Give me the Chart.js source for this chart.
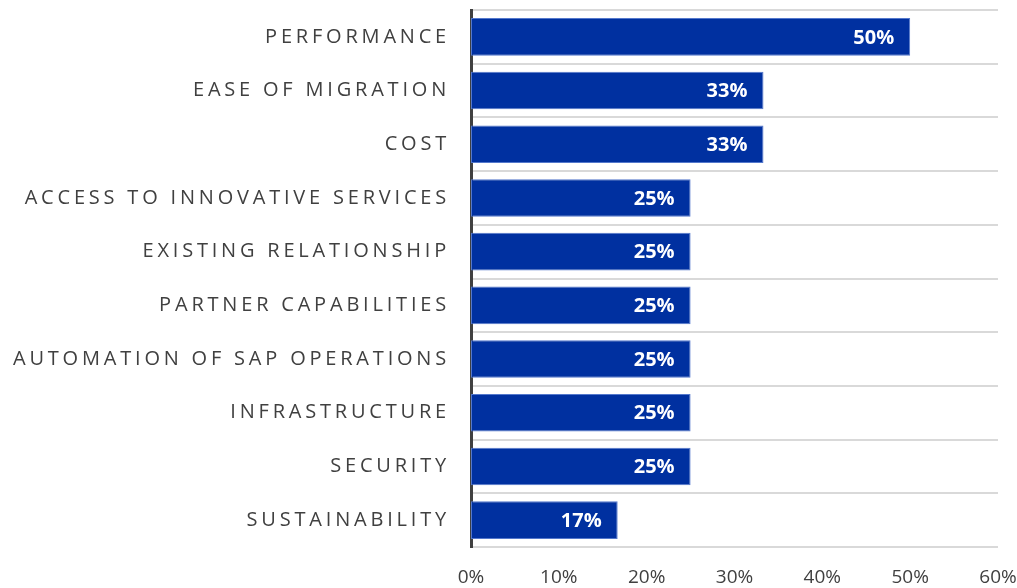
<!DOCTYPE html>
<html lang="en">
<head>
    <meta charset="UTF-8">
    <title>Selection Criteria</title>
    <script src="https://cdn.jsdelivr.net/npm/chart.js"></script>
    <style>
        html, body {
            margin: 0;
            padding: 0;
            background: #fff;
            overflow: hidden;
        }
        #wrap {
            width: 1017px;
            height: 588px;
        }
    </style>
</head>
<body>
    <div id="wrap">
        <canvas id="chart" width="1017" height="588"></canvas>
    </div>

    <script>
        const categories = [
            'PERFORMANCE',
            'EASE OF MIGRATION',
            'COST',
            'ACCESS TO INNOVATIVE SERVICES',
            'EXISTING RELATIONSHIP',
            'PARTNER CAPABILITIES',
            'AUTOMATION OF SAP OPERATIONS',
            'INFRASTRUCTURE',
            'SECURITY',
            'SUSTAINABILITY'
        ];
        const shares = [50, 33.3, 33.3, 25, 25, 25, 25, 25, 25, 16.7];
        const xTicks = [0, 10, 20, 30, 40, 50, 60];

        const labelColor = '#404040';

        // category names drawn with letter spacing (Chart.js has no option for it)
        const categoryLabels = {
            id: 'categoryLabels',
            afterDraw(chart) {
                const ctx = chart.ctx;
                const y = chart.scales.y;
                ctx.save();
                ctx.font = '20px "Open Sans"';
                ctx.fillStyle = labelColor;
                ctx.textAlign = 'right';
                ctx.textBaseline = 'middle';
                ctx.letterSpacing = '3.8px';
                categories.forEach((c, i) => {
                    ctx.fillText(c, 450, y.getPixelForValue(i));
                });
                ctx.restore();
            }
        };

        // white value labels inside the bar ends
        const valueLabels = {
            id: 'valueLabels',
            afterDatasetsDraw(chart) {
                const ctx = chart.ctx;
                const meta = chart.getDatasetMeta(0);
                ctx.save();
                ctx.font = 'bold 20px "Open Sans"';
                ctx.fillStyle = '#ffffff';
                ctx.textAlign = 'right';
                ctx.textBaseline = 'middle';
                meta.data.forEach((bar, i) => {
                    ctx.fillText(Math.round(shares[i]) + '%', bar.x - 16, bar.y + 1);
                });
                ctx.restore();
            }
        };

        new Chart(document.getElementById('chart').getContext('2d'), {
            type: 'bar',
            data: {
                labels: categories,
                datasets: [{
                    data: shares,
                    backgroundColor: '#0030A0',
                    borderColor: '#5478cc',
                    borderWidth: 1,
                    borderSkipped: false,
                    barPercentage: 0.7,
                    categoryPercentage: 1.0
                }]
            },
            options: {
                indexAxis: 'y',
                responsive: false,
                animation: false,
                layout: {
                    padding: { top: 10, right: 19, bottom: 0, left: 0 }
                },
                plugins: {
                    legend: { display: false },
                    tooltip: { enabled: false }
                },
                scales: {
                    x: {
                        min: 0,
                        max: 60,
                        afterBuildTicks: scale => {
                            scale.ticks = xTicks.map(v => ({ value: v }));
                        },
                        afterFit: scale => {
                            scale.height = 41;
                            scale.paddingLeft = 0;
                            scale.paddingRight = 0;
                        },
                        grid: { display: false },
                        border: { display: false },
                        ticks: {
                            color: labelColor,
                            font: { family: 'Open Sans', size: 19 },
                            padding: 11,
                            callback: v => v + '%'
                        }
                    },
                    y: {
                        afterFit: scale => { scale.width = 471; },
                        ticks: { display: false },
                        grid: {
                            color: '#d9d9d9',
                            lineWidth: 2,
                            drawTicks: false,
                            offset: true
                        },
                        border: { color: labelColor, width: 3 }
                    }
                }
            },
            plugins: [categoryLabels, valueLabels]
        });
    </script>
</body>
</html>
